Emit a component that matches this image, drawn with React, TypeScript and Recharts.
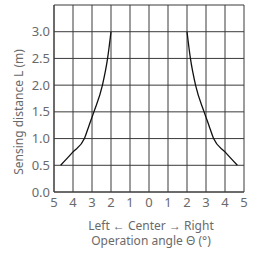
import { LineChart, Line, XAxis, YAxis, CartesianGrid, Label } from "recharts";

const xTicks = [-5, -4, -3, -2, -1, 0, 1, 2, 3, 4, 5];
const yTicks = [0, 0.5, 1, 1.5, 2, 2.5, 3, 3.5];

// left side of the detection area (angle negative = left)
const leftAngle = [-4.65, -4.0, -3.4, -3.15, -2.9, -2.45, -2.18, -2.0];
const leftDist = [0.5, 0.75, 1.0, 1.25, 1.5, 2.0, 2.5, 3.0];

// right side
const rightAngle = [2.0, 2.18, 2.45, 2.9, 3.15, 3.4, 4.0, 4.65];
const rightDist = [3.0, 2.5, 2.0, 1.5, 1.25, 1.0, 0.75, 0.5];

const leftData = leftAngle.map((x, i) => ({ x, y: leftDist[i] }));
const rightData = rightAngle.map((x, i) => ({ x, y: rightDist[i] }));

const FONT = "'Noto Sans', sans-serif";
const TEXT = "#6a6a6a";
const GRID = "#3a3a3a";

function YTitle() {
  return (
    <text
      x={20}
      y={112}
      transform="rotate(-90, 20, 112)"
      textAnchor="middle"
      dominantBaseline="middle"
      fill={TEXT}
      fontSize={12}
      fontFamily={FONT}
    >
      Sensing distance L (m)
    </text>
  );
}

function XTitle() {
  return (
    <g>
      <text x={151} y={230} textAnchor="middle" fill={TEXT} fontSize={12} fontFamily={FONT}>
        Left ← Center → Right
      </text>
      <text x={151} y={245} textAnchor="middle" fill={TEXT} fontSize={12} fontFamily={FONT}>
        Operation angle Θ (°)
      </text>
    </g>
  );
}

export default function App() {
  return (
    <div style={{ position: "absolute", left: 0, top: 0, width: 256, height: 257, background: "#fff" }}>
      <LineChart width={256} height={257} margin={{ top: 5, right: 12, left: 0, bottom: 45 }}>
        <CartesianGrid stroke={GRID} strokeWidth={1} />
        <XAxis
          type="number"
          dataKey="x"
          domain={[-5, 5]}
          ticks={xTicks}
          tickFormatter={(v: number) => String(Math.abs(v))}
          height={20}
          tickSize={0}
          tickMargin={6}
          axisLine={{ stroke: GRID }}
          tick={{ fill: TEXT, fontSize: 13, fontFamily: FONT }}
          interval={0}
          allowDuplicatedCategory={false}
        >
          <Label content={<XTitle />} />
        </XAxis>
        <YAxis
          type="number"
          dataKey="y"
          domain={[0, 3.5]}
          ticks={yTicks}
          tickFormatter={(v: number) => (v === 3.5 ? "" : v.toFixed(1))}
          width={54}
          tickSize={0}
          tickMargin={4}
          axisLine={{ stroke: GRID }}
          tick={{ fill: TEXT, fontSize: 13, fontFamily: FONT }}
          interval={0}
        >
          <Label content={<YTitle />} />
        </YAxis>
        <Line data={leftData} dataKey="y" type="monotone" stroke="#111" strokeWidth={1.3} dot={false} isAnimationActive={false} />
        <Line data={rightData} dataKey="y" type="monotone" stroke="#111" strokeWidth={1.3} dot={false} isAnimationActive={false} />
      </LineChart>
    </div>
  );
}
